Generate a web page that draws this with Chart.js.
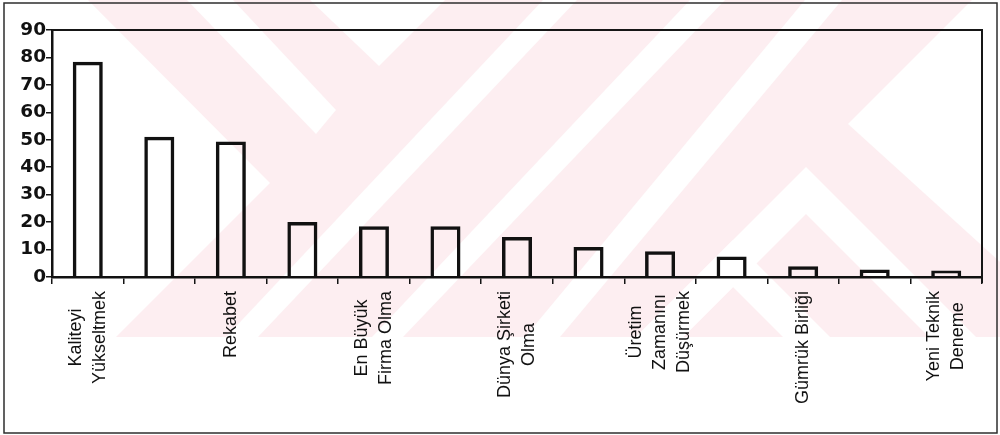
<!DOCTYPE html>
<html>
<head>
<meta charset="utf-8">
<script src="https://cdn.jsdelivr.net/npm/chart.js@4/dist/chart.umd.min.js"></script>
<style>
  html, body { margin: 0; padding: 0; background: #ffffff; }
  #wrap { width: 1000px; height: 435px; position: relative; }
</style>
</head>
<body>
<div id="wrap"><canvas id="c" width="1000" height="435"></canvas></div>
<script>
// ---- data ----
const categories = [
  ['Kaliteyi', 'Yükseltmek'],
  '',
  'Rekabet',
  '',
  ['En Büyük', 'Firma Olma'],
  '',
  ['Dünya Şirketi', 'Olma'],
  '',
  ['Üretim', 'Zamanını', 'Düşürmek'],
  '',
  'Gümrük Birliği',
  '',
  ['Yeni Teknik', 'Deneme']
];
const values = [78.4, 51.1, 49.4, 20.0, 18.5, 18.5, 14.6, 10.9, 9.4, 7.5, 3.9, 2.7, 2.4];
const yTicks = [0, 10, 20, 30, 40, 50, 60, 70, 80, 90];

// ---- decoration (watermark + frames + rotated centred labels) ----
const decor = {
  id: 'decor',
  beforeDraw(chart) {
    const ctx = chart.ctx;
    ctx.save();
    ctx.fillStyle = '#ffffff';
    ctx.fillRect(0, 0, chart.width, chart.height);
    const pink = [[88,0],[1000,0],[1000,337],[116,337],[270,183]];
    const whites = [
      [[187,0],[233,0],[336,110],[316,134]],
      [[310,0],[445,0],[379,66]],
      [[543,0],[577,0],[258,337],[226,337]],
      [[690,0],[725,0],[403,337],[372,337]],
      [[805,0],[842,0],[560,337],[525,337]],
      [[848,124],[972,0],[1000,0],[1000,262]],
      [[806,167],[976,337],[929,337],[806,214],[683,337],[636,337]],
      [[733,240],[830,337],[783,337],[733,287],[683,337],[636,337]]
    ];
    const poly = (pts, col) => {
      ctx.beginPath();
      pts.forEach((p, i) => i ? ctx.lineTo(p[0], p[1]) : ctx.moveTo(p[0], p[1]));
      ctx.closePath();
      ctx.fillStyle = col;
      ctx.fill();
    };
    poly(pink, '#fdeef1');
    whites.forEach(w => poly(w, '#ffffff'));
    ctx.restore();
  },
  afterDraw(chart) {
    const ctx = chart.ctx;
    const a = chart.chartArea;
    ctx.save();
    // plot frame (top + right)
    ctx.strokeStyle = '#161616';
    ctx.lineWidth = 2;
    ctx.beginPath();
    ctx.moveTo(a.left, a.top);
    ctx.lineTo(a.right, a.top);
    ctx.lineTo(a.right, a.bottom + 6);
    ctx.stroke();
    // outer frame
    ctx.strokeStyle = '#2e2e2e';
    ctx.lineWidth = 1.5;
    ctx.strokeRect(4, 3, 993, 430);
    // centred rotated category labels
    const xs = chart.scales.x;
    ctx.fillStyle = '#111111';
    ctx.font = '18px "Liberation Sans", Arial, sans-serif';
    ctx.textAlign = 'center';
    ctx.textBaseline = 'middle';
    const topY = a.bottom + 14;
    const spacing = 24;
    categories.forEach((lab, i) => {
      const lines = Array.isArray(lab) ? lab : [lab];
      if (!lines.join('')) return;
      const maxW = Math.max(...lines.map(l => ctx.measureText(l).width));
      const cy = topY + maxW / 2;
      const cx = xs.getPixelForValue(i);
      const n = lines.length;
      ctx.save();
      ctx.translate(cx, cy);
      ctx.rotate(-Math.PI / 2);
      lines.forEach((l, k) => {
        ctx.fillText(l, 0, (k - (n - 1) / 2) * spacing);
      });
      ctx.restore();
    });
    ctx.restore();
  }
};

new Chart(document.getElementById('c'), {
  type: 'bar',
  data: {
    labels: categories,
    datasets: [{
      data: values,
      backgroundColor: 'rgba(0,0,0,0)',
      borderColor: '#111111',
      borderWidth: 3.5,
      borderSkipped: 'start',
      barPercentage: 0.42,
      categoryPercentage: 1.0
    }]
  },
  options: {
    responsive: false,
    animation: false,
    devicePixelRatio: 1,
    layout: { padding: { top: 30, right: 18, left: 0, bottom: 0 } },
    plugins: { legend: { display: false }, tooltip: { enabled: false }, title: { display: false } },
    scales: {
      x: {
        type: 'category',
        offset: true,
        grid: { display: true, offset: true, drawOnChartArea: false, drawTicks: true, tickLength: 7, color: '#141414', lineWidth: 1.5 },
        border: { display: true, color: '#111111', width: 2.5 },
        ticks: { display: false, autoSkip: false },
        afterFit(s) { s.height = 158; }
      },
      y: {
        min: 0,
        max: 90,
        afterBuildTicks(s) { s.ticks = yTicks.map(v => ({ value: v })); },
        grid: { display: true, drawOnChartArea: false, drawTicks: true, tickLength: 6, color: '#141414', lineWidth: 1.5 },
        border: { display: true, color: '#111111', width: 2.5 },
        ticks: {
          color: '#111111',
          padding: 0,
          font: { family: '"DejaVu Sans", sans-serif', size: 18.5, weight: 'bold' }
        },
        afterFit(s) { s.width = 52; }
      }
    }
  },
  plugins: [decor]
});
</script>
</body>
</html>
